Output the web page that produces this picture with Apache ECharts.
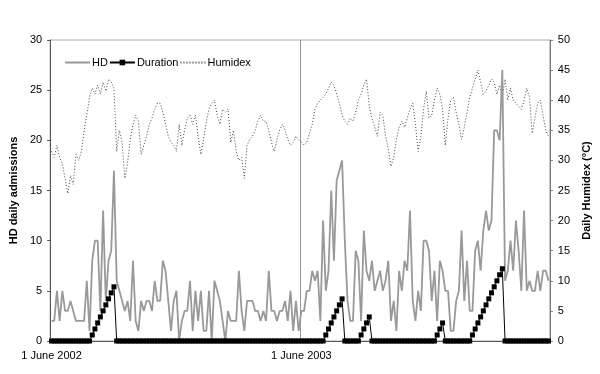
<!DOCTYPE html>
<html><head><meta charset="utf-8">
<script src="https://cdn.jsdelivr.net/npm/echarts@6/dist/echarts.min.js"></script>
<style>html,body{margin:0;padding:0;background:#fff}#c{width:600px;height:374px}</style>
</head><body><div id="c"></div>
<script>
// Daily HD admissions, summers (1 June - 31 Aug) of 2002 and 2003
const hd = [
 2,2,5,2,5,3,3,4,3,2,2,2,2,
 6,1,8,10,10,3,13,4,8,9,17,
 6,5,4,3,4,2,8,2,1,4, 3,4,4,3,6,4,4,8,7,4, 1,4,5,0,2,3,3,6,1,5, 2,5,1,1,5,0,6,5,
 4,2,0,3,2,2,2,7,3,1, 4,4,4,3,3,2,3,2,7,3, 3,2,3,3,4,2,5,1,4,1,
 3,3,5,5,7,6,7,2,12,5, 7,15,8,16,17,18,10,4,2,2, 9,8,2,11,7,6,8,5,6,7,
 5,6,8,2,4,1,7,5,8,7, 13,4,2,5,3,10,10,9,4,7, 2,8,7,5,5,1,1,4,5,11,
 4,8,3,3,9,10,7,11,13,11, 12,21,21,20,27,6,7,10,7,12, 9,5,13,5,6,5,5,7,5,7, 7,6
];
// Heat wave duration (days)
const duration = [
 0,0,0,0,0,0,0,0,0,0, 0,0,0,0,0,1,2,3,4,5, 6,7,8,9,0,0,0,0,0,0,
 0,0,0,0,0,0,0,0,0,0, 0,0,0,0,0,0,0,0,0,0, 0,0,0,0,0,0,0,0,0,0,
 0,0,0,0,0,0,0,0,0,0, 0,0,0,0,0,0,0,0,0,0, 0,0,0,0,0,0,0,0,0,0,
 0,0,0,0,0,0,0,0,0,0, 0,1,2,3,4,5,6,7,0,0, 0,0,0,0,1,2,3,4,0,0,
 0,0,0,0,0,0,0,0,0,0, 0,0,0,0,0,0,0,0,0,0, 0,0,1,2,3,0,0,0,0,0,
 0,0,0,0,0,1,2,3,4,5, 6,7,8,9,10,11,12,0,0,0, 0,0,0,0,0,0,0,0,0,0,
 0,0,0,0
];
// Daily Humidex (°C)
const humidex = [
 31.5,30.5,32.5,30.5,29.5,27,24.5,27.5,26,31,
 30,31.5,35,37.5,40.5,42,41,42.5,41,43,
 41.5,43.5,43,42,31.5,35,33,27,29.5,33.5,
 36,37.5,36.5,31,32.5,34,36,37,38.5,39.5,
 39.5,38,36,34,33,32.5,31.5,36,32.5,35,
 37,37.5,36,37.5,34,31,33.5,36.5,38.5,39.5,
 40,37.5,36,38.5,38,38.5,33,35,31.5,30,
 30.5,27,32.5,33.5,34,35,36.5,37.5,36.5,36.5,
 35,33,31.5,33.5,35,36,35,33.5,32.5,33,
 34,33.5,33,32.5,33,34.5,36,38.5,39.5,40,
 40.5,41,42,43,42.5,41,39.5,37.5,36.5,36,
 37,36.5,38,40,41,42.5,43.5,39,37,35.5,
 34,38,37.5,34,32,29,30.5,33.5,35.5,36.5,
 35.5,37,38.5,39.5,36,31.5,34,38.5,41.5,37,
 37.5,40,42,41,38.5,32.5,37,40,40.5,38,
 36,33.5,35.5,38,40.5,42,43.5,45,43,41,
 41.5,42.5,43.5,43,41,42.5,40.5,43.5,40,42,
 40,39.5,39,38.5,40,42,40.5,34.5,37,39.5,
 40,37.5,35,34
];
const years = [2002, 2003];
const months = [['June',30],['July',31],['August',31]];
const categories = [];
years.forEach(y => months.forEach(([m,n]) => { for (let d=1; d<=n; d++) categories.push(d+' '+m+' '+y); }));
const tickLabels = ['1 June 2002', '1 June 2003'];
const seasonStart = categories.indexOf(tickLabels[1]);

const font = 'Liberation Sans, Arial, sans-serif';
const chart = echarts.init(document.getElementById('c'), null, {renderer:'canvas'});
chart.setOption({
  animation: false,
  backgroundColor: '#fff',
  textStyle: {fontFamily: font},
  grid: {left: 45, right: 43, top: 40, bottom: 33, show: true, borderColor: '#aaa', borderWidth: 1},
  legend: {
    data: [{name: 'HD', itemStyle: {opacity: 0}}, 'Duration', {name: 'Humidex', itemStyle: {opacity: 0}}],
    left: 59, top: 52, itemWidth: 25, itemHeight: 7, itemGap: 1,
    textStyle: {fontFamily: font, fontSize: 11, color: '#000', padding: [0, 0, 0, -3]}
  },
  xAxis: {
    type: 'category', data: categories, boundaryGap: true,
    axisLine: {lineStyle: {color: '#555', width: 1}},
    axisTick: {show: false},
    axisLabel: {
      interval: (i, v) => tickLabels.indexOf(v) >= 0,
      color: '#000', fontSize: 11, fontFamily: font, margin: 9
    },
    splitLine: {show: true, interval: (i) => i === 0 || i === seasonStart, lineStyle: {color: '#999', width: 1}}
  },
  yAxis: [
    {type: 'value', min: 0, max: 30, interval: 5,
     name: 'HD daily admissions', nameLocation: 'middle', nameRotate: 90, nameGap: 17,
     nameTextStyle: {fontFamily: font, fontSize: 11, fontWeight: 'bold', color: '#000'},
     axisLine: {show: true, lineStyle: {color: '#555'}},
     axisTick: {show: true, length: 3, lineStyle: {color: '#555'}},
     axisLabel: {color: '#000', fontSize: 11, fontFamily: font, margin: 8},
     splitLine: {show: false}},
    {type: 'value', min: 0, max: 50, interval: 5, position: 'right',
     name: 'Daily Humidex (°C)', nameLocation: 'middle', nameRotate: 90, nameGap: 24,
     nameTextStyle: {fontFamily: font, fontSize: 11, fontWeight: 'bold', color: '#000'},
     axisLine: {show: true, lineStyle: {color: '#777'}},
     axisTick: {show: true, length: 3, lineStyle: {color: '#777'}},
     axisLabel: {color: '#000', fontSize: 11, fontFamily: font, margin: 8},
     splitLine: {show: false}}
  ],
  series: [
    {name: 'Humidex', type: 'line', yAxisIndex: 1, data: humidex, symbol: 'none',
     lineStyle: {color: '#444', width: 1, type: [1, 2]}, itemStyle: {color: '#444'}, z: 2},
    {name: 'HD', type: 'line', yAxisIndex: 0, data: hd, symbol: 'none',
     lineStyle: {color: '#999', width: 1.8}, itemStyle: {color: '#999'}, z: 3},
    {name: 'Duration', type: 'line', yAxisIndex: 1, data: duration, symbol: 'rect', symbolSize: 5,
     showAllSymbol: true,
     lineStyle: {color: '#000', width: 1}, itemStyle: {color: '#000'}, z: 4}
  ]
});
</script></body></html>
